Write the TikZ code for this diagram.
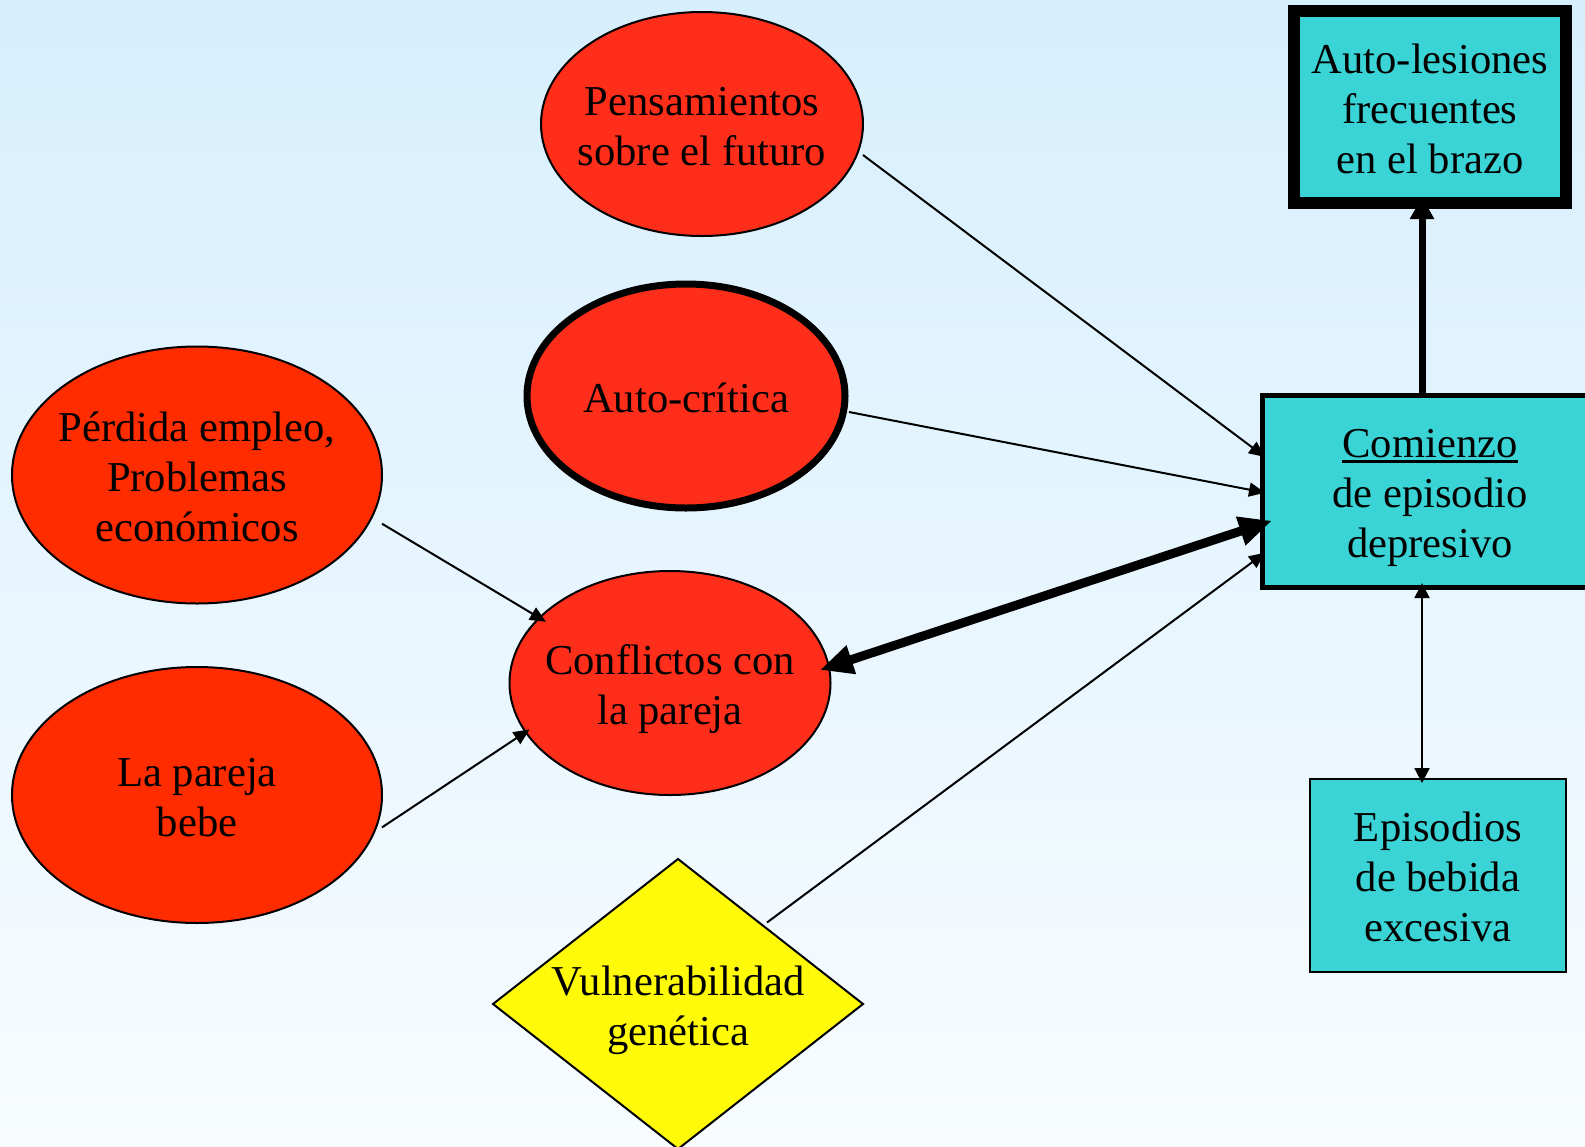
\documentclass[tikz,border=0pt]{standalone}
\usepackage{fontspec}
\setmainfont{Liberation Serif}
\usetikzlibrary{shapes.geometric,arrows.meta,calc}
\definecolor{bgtop}{RGB}{214,239,253}
\definecolor{bgbot}{RGB}{248,252,255}
\definecolor{redA}{RGB}{255,46,26}
\definecolor{redB}{RGB}{255,44,0}
\definecolor{cyanbox}{RGB}{58,212,214}
\definecolor{yellowd}{RGB}{255,250,10}
\newcommand\ls{\rule[-6pt]{0pt}{28pt}}
\newcommand\myul[1]{\setbox0\hbox{#1}\rlap{\rule[-2.6pt]{\wd0}{1.1pt}}\box0}
\newcommand\txtfont{\fontsize{21.3}{25}\selectfont\lineskiplimit -100pt\relax}
\begin{document}
\begin{tikzpicture}[x=0.5pt,y=-0.5pt,
  every node/.style={outer sep=0pt, inner sep=0pt},
  shapebase/.style={draw=black, line width=1pt},
  redell/.style={shapebase, ellipse, fill=redA},
  orell/.style={shapebase, ellipse, fill=redB},
  cyanrect/.style={shapebase, rectangle, fill=cyanbox},
  txt/.style={font=\txtfont, align=center, text=black},
  thinarr/.style={line width=1pt, -{Triangle[length=8pt,width=7pt]}},
  thindbl/.style={line width=1pt, {Triangle[length=7.5pt,width=7.5pt]}-{Triangle[length=7.5pt,width=7.5pt]}},
  thickdbl/.style={line width=4.5pt, {Triangle[length=16.5pt,width=14pt]}-{Triangle[length=16.5pt,width=14pt]}},
  thickup/.style={line width=3.5pt, -{Triangle[length=11pt,width=11.5pt]}}
]
\useasboundingbox (0,0) rectangle (1585,1146);
\clip (0,0) rectangle (1585,1146);
\shade[top color=bgtop, bottom color=bgbot] (0,0) rectangle (1585,1146);

% shapes
\node[redell, minimum width=161pt, minimum height=112pt] (pf) at (702,124) {};
\node[redell, line width=3.5pt, minimum width=159pt, minimum height=112pt] (ac) at (686,396) {};
\node[orell, minimum width=185pt, minimum height=128.5pt] (pe) at (197,475) {};
\node[orell, minimum width=185pt, minimum height=128pt] (lp) at (197,795) {};
\node[redell, minimum width=160.5pt, minimum height=112pt] (cp) at (670,683) {};
\node[shapebase, diamond, fill=yellowd, minimum width=185pt, minimum height=145pt] (vg) at (678,1004) {};
\node[cyanrect, line width=2.5pt, minimum width=168pt, minimum height=95.65pt] (co) at (1430,491.4) {};
\node[cyanrect, line width=6pt, minimum width=136pt, minimum height=96pt] (al) at (1430,107) {};
\node[cyanrect, minimum width=128pt, minimum height=96.35pt] (ep) at (1438,875.4) {};

% texts
\node[txt] (pf-t) at (pf.center) {\ls Pensamientos\\\ls sobre el futuro};
\node[txt] (ac-t) at (ac.center) {\ls Auto-crítica};
\node[txt] (pe-t) at (pe.center) {\ls Pérdida empleo,\\\ls Problemas\\\ls económicos};
\node[txt] (lp-t) at (lp.center) {\ls La pareja\\\ls bebe};
\node[txt] (cp-t) at (cp.center) {\ls Conflictos con\\\ls la pareja};
\node[txt] (vg-t) at (vg.center) {\ls Vulnerabilidad\\\ls genética};
\node[txt] (co-t) at (co.center) {\ls\myul{Comienzo}\\\ls de episodio\\\ls depresivo};
\node[txt] (al-t) at (al.center) {\ls Auto-lesiones\\\ls frecuentes\\\ls en el brazo};
\node[txt] (ep-t) at (ep.center) {\ls Episodios\\\ls de bebida\\\ls excesiva};

% connectors
\draw[thinarr] ($(pf.center)+(161,31)$) -- ($(co.west)+(3,-34.4)$);
\draw[thinarr] ($(ac.center)+(163,16)$) -- ($(co.west)+(3,1.3)$);
\draw[thickdbl] ($(cp.center)+(150,-13)$) -- ($(co.west)+(10,29.3)$);
\draw[thinarr] ($(vg.center)+(89,-81.5)$) -- ($(co.west)+(3,61.3)$);
\draw[thinarr] ($(pe.center)+(185,48.7)$) -- ($(cp.center)+(-124,-61.2)$);
\draw[thinarr] ($(lp.center)+(185,32.4)$) -- ($(cp.center)+(-140.4,46.4)$);
\draw[thickup] ($(co.north)+(-8,0)$) -- ($(al.south)+(-8,-6)$);
\draw[thindbl] ($(co.south)+(-8,-4)$) -- ($(ep.north)+(-16,4)$);
\end{tikzpicture}
\end{document}
